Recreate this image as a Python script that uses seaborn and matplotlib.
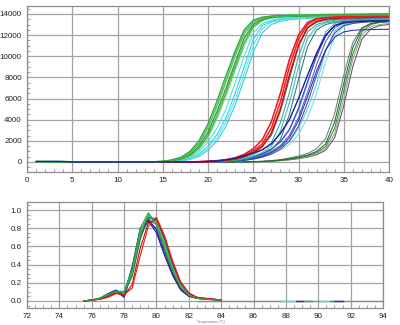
import numpy as np
import pandas as pd
import matplotlib
matplotlib.use("Agg")
import matplotlib.pyplot as plt
from matplotlib.ticker import MultipleLocator
import seaborn as sns

# ---------------- amplification data (RFU per cycle 1..40) ----------------
cycles = list(range(1, 41))

G1 = [0]*13 + [20, 70, 200, 450, 1000, 2000, 3600, 5800, 8200, 10500, 12500, 13400, 13700, 13800, 13850, 13870, 13890, 13900, 13910, 13920, 13930, 13940, 13950, 13960, 13970, 13980, 13990]
G2 = [0]*13 + [15, 50, 150, 380, 850, 1700, 3200, 5300, 7600, 10000, 12100, 13200, 13600, 13750, 13800, 13830, 13850, 13870, 13880, 13890, 13900, 13910, 13920, 13930, 13940, 13950, 13960]
G3 = [0]*13 + [10, 40, 120, 300, 700, 1500, 2800, 4800, 7000, 9400, 11700, 13000, 13500, 13700, 13750, 13780, 13800, 13820, 13840, 13850, 13860, 13870, 13880, 13890, 13900, 13910, 13920]
G4 = [0]*13 + [10, 30, 100, 250, 600, 1300, 2500, 4400, 6600, 9000, 11300, 12800, 13400, 13650, 13720, 13760, 13790, 13810, 13830, 13850, 13860, 13870, 13880, 13890, 13900, 13910, 13920]
G5 = [0]*13 + [5, 30, 90, 220, 520, 1150, 2300, 4100, 6300, 8700, 11000, 12700, 13400, 13600, 13700, 13750, 13780, 13800, 13820, 13840, 13860, 13880, 13900, 13920, 13940, 13960, 13980]
G6 = [0]*13 + [15, 55, 160, 400, 900, 1800, 3300, 5400, 7800, 10200, 12300, 13300, 13650, 13780, 13840, 13880, 13900, 13920, 13940, 13960, 13970, 13980, 13990, 14000, 14010, 14020, 14030]

C1 = [0]*14 + [30, 80, 200, 450, 950, 1900, 3200, 5000, 7500, 10000, 12200, 13100, 13400, 13550, 13620, 13660, 13690, 13710, 13730, 13750, 13760, 13770, 13780, 13790, 13800, 13810]
C2 = [0]*14 + [20, 60, 150, 350, 750, 1500, 2600, 4200, 6500, 9000, 11600, 12900, 13300, 13500, 13600, 13650, 13680, 13700, 13720, 13740, 13750, 13760, 13770, 13780, 13790, 13800]
C3 = [0]*14 + [15, 50, 120, 280, 620, 1300, 2300, 3800, 5900, 8400, 11000, 12600, 13200, 13400, 13500, 13560, 13600, 13630, 13650, 13670, 13690, 13700, 13710, 13720, 13730, 13740]
C4 = [0]*14 + [10, 40, 100, 230, 520, 1100, 2000, 3400, 5400, 7800, 10400, 12200, 13000, 13300, 13450, 13520, 13570, 13600, 13620, 13640, 13660, 13670, 13680, 13690, 13700, 13710]

R1 = [0]*18 + [30, 60, 120, 220, 400, 720, 1250, 2100, 3800, 6500, 9700, 12000, 13200, 13550, 13650, 13700, 13720, 13740, 13760, 13770, 13780, 13790]
R2 = [0]*18 + [20, 50, 100, 180, 320, 600, 1050, 1700, 3200, 5700, 9000, 11600, 13000, 13500, 13650, 13700, 13720, 13740, 13750, 13760, 13770, 13780]
R3 = [0]*18 + [15, 40, 80, 150, 270, 500, 880, 1450, 2700, 5000, 8200, 11000, 12700, 13300, 13500, 13580, 13620, 13650, 13670, 13690, 13700, 13710]

T1 = [0]*19 + [40, 80, 160, 290, 520, 900, 1500, 2500, 4800, 7900, 11000, 12700, 13200, 13400, 13480, 13520, 13550, 13570, 13590, 13600, 13610]
T2 = [0]*19 + [30, 60, 120, 220, 400, 700, 1150, 1800, 3700, 6600, 10000, 12300, 13000, 13250, 13400, 13450, 13480, 13500, 13520, 13530, 13540]
T3 = [0]*19 + [20, 45, 90, 170, 310, 550, 900, 1450, 2900, 5600, 9000, 11700, 12800, 13150, 13300, 13380, 13420, 13450, 13470, 13490, 13500]
T4 = [0]*19 + [15, 35, 70, 130, 240, 430, 720, 1150, 2100, 4500, 7800, 10900, 12500, 13000, 13200, 13300, 13350, 13380, 13400, 13420, 13430]

B1 = [60, 60, 60, 50] + [0]*15 + [50, 100, 200, 350, 580, 850, 1150, 1700, 2700, 4000, 6000, 8200, 10300, 12000, 12900, 13150, 13250, 13300, 13320, 13340, 13350]
B2 = [0]*19 + [30, 55, 80, 150, 270, 470, 780, 1200, 1900, 3100, 5100, 7600, 10000, 11900, 12900, 13250, 13350, 13400, 13420, 13440, 13450]
B3 = [0]*19 + [20, 40, 60, 120, 210, 370, 620, 1000, 1550, 2500, 4200, 6600, 9200, 11400, 12700, 13150, 13300, 13350, 13380, 13400, 13410]
B4 = [0]*19 + [15, 30, 50, 100, 180, 320, 540, 880, 1400, 2300, 3900, 6200, 8600, 10600, 11800, 12300, 12450, 12500, 12520, 12540, 12550]
B5 = [0]*19 + [10, 20, 40, 80, 150, 270, 460, 750, 1200, 2000, 3400, 5600, 8200, 10600, 12200, 12900, 13100, 13200, 13250, 13280, 13300]

L1 = [0]*19 + [20, 35, 50, 100, 180, 320, 550, 900, 1400, 1900, 3200, 5000, 7400, 10500, 12400, 13000, 13200, 13300, 13350, 13380, 13400]
L2 = [0]*19 + [30, 50, 80, 150, 280, 480, 800, 1250, 1900, 3000, 4900, 7400, 10200, 12300, 13100, 13300, 13380, 13420, 13450, 13470, 13480]
L3 = [0]*19 + [10, 25, 45, 80, 150, 260, 440, 720, 1150, 1650, 2600, 4200, 6500, 9500, 11900, 12800, 13100, 13250, 13300, 13330, 13350]

D1 = [0]*24 + [30, 50, 100, 180, 300, 450, 650, 1000, 1700, 3800, 7400, 10800, 12600, 13100, 13250, 13300]
D2 = [0]*24 + [20, 40, 90, 160, 260, 400, 580, 880, 1450, 3200, 6700, 10200, 12300, 13000, 13200, 13300]
D3 = [0]*24 + [40, 70, 130, 230, 370, 560, 800, 1250, 2200, 4600, 8200, 11300, 12700, 13100, 13200, 13250]
D4 = [0]*24 + [20, 45, 80, 140, 230, 350, 500, 760, 1250, 2700, 6000, 9700, 12000, 12800, 13000, 13100]
D5 = [0]*24 + [15, 35, 70, 120, 200, 310, 450, 680, 1100, 2300, 5300, 9000, 11600, 12600, 12900, 13000]

amp_names = ["D5", "D4", "D3", "D2", "D1", "L3", "L2", "L1", "B5", "B4", "B3", "B2",
             "T4", "T3", "T2", "T1", "C4", "C3", "C2", "C1", "R3", "R2", "R1",
             "G6", "G5", "G4", "G3", "G2", "G1", "B1"]
amp_values = [D5, D4, D3, D2, D1, L3, L2, L1, B5, B4, B3, B2,
              T4, T3, T2, T1, C4, C3, C2, C1, R3, R2, R1,
              G6, G5, G4, G3, G2, G1, B1]
amp_colors = ["#5a5a5a", "#a0a0a0", "#7a7a7a", "#2f8a3a", "#1f6e2a",
              "#78dce0", "#40bfc4", "#55cfd6",
              "#4646a8", "#2b2bb0", "#5555c4", "#3a3ab8",
              "#237a80", "#4db3b0", "#3aa3a3", "#2b8f8f",
              "#33c8d8", "#5ae6ee", "#22d3e0", "#3fe0ea",
              "#c81010", "#ff2020", "#e51c23",
              "#66cc77", "#7dd87d", "#48b848", "#2e9a3a", "#5cc45c", "#33a845",
              "#1c1c9c"]

# ---------------- melt data (-dF/dT normalised) ----------------
melt_temps = [75.5, 76.0, 76.5, 77.0, 77.5, 78.0, 78.5, 79.0, 79.5, 80.0, 80.5, 81.0, 81.5, 82.0, 82.5, 83.0, 83.5, 84.0]
mG1 = [0, 0.01, 0.03, 0.07, 0.10, 0.10, 0.35, 0.80, 0.97, 0.84, 0.58, 0.33, 0.15, 0.06, 0.03, 0.02, 0.015, 0.01]
mG2 = [0, 0.01, 0.03, 0.06, 0.11, 0.09, 0.30, 0.75, 0.95, 0.86, 0.62, 0.36, 0.17, 0.07, 0.035, 0.025, 0.02, 0.01]
mG3 = [0, 0.01, 0.02, 0.05, 0.09, 0.10, 0.27, 0.68, 0.92, 0.90, 0.68, 0.40, 0.19, 0.08, 0.04, 0.025, 0.02, 0.01]
mG4 = [0, 0.01, 0.03, 0.07, 0.10, 0.10, 0.33, 0.77, 0.95, 0.86, 0.60, 0.34, 0.16, 0.065, 0.03, 0.02, 0.015, 0.01]
mR1 = [0, 0.01, 0.02, 0.04, 0.08, 0.07, 0.14, 0.50, 0.82, 0.92, 0.72, 0.44, 0.21, 0.09, 0.04, 0.03, 0.02, 0.01]
mR2 = [0, 0.01, 0.02, 0.05, 0.09, 0.06, 0.18, 0.58, 0.86, 0.90, 0.70, 0.42, 0.20, 0.085, 0.04, 0.03, 0.02, 0.01]
mB1 = [0, 0.01, 0.03, 0.08, 0.12, 0.06, 0.38, 0.80, 0.88, 0.75, 0.50, 0.28, 0.12, 0.05, 0.03, 0.02, 0.015, 0.01]
mB2 = [0, 0.01, 0.03, 0.07, 0.11, 0.04, 0.34, 0.78, 0.90, 0.78, 0.53, 0.30, 0.13, 0.055, 0.03, 0.02, 0.015, 0.01]
mB3 = [0, 0.01, 0.02, 0.06, 0.10, 0.05, 0.30, 0.74, 0.87, 0.80, 0.56, 0.32, 0.14, 0.06, 0.03, 0.02, 0.015, 0.01]
mT1 = [0, 0.01, 0.03, 0.07, 0.11, 0.09, 0.32, 0.74, 0.92, 0.87, 0.63, 0.37, 0.17, 0.07, 0.035, 0.025, 0.02, 0.01]
mC1 = [0, 0.01, 0.03, 0.08, 0.12, 0.10, 0.36, 0.78, 0.93, 0.85, 0.60, 0.35, 0.16, 0.07, 0.035, 0.025, 0.02, 0.01]
mC2 = [0, 0.01, 0.03, 0.06, 0.10, 0.08, 0.28, 0.70, 0.90, 0.88, 0.66, 0.39, 0.18, 0.075, 0.035, 0.025, 0.02, 0.01]
mK1 = [0, 0.01, 0.02, 0.06, 0.10, 0.09, 0.29, 0.72, 0.89, 0.84, 0.61, 0.36, 0.16, 0.07, 0.035, 0.025, 0.02, 0.01]

melt_names = ["mK1", "mT1", "mC2", "mC1", "mB3", "mB2", "mB1", "mG4", "mG3", "mG2", "mR2", "mR1", "mG1"]
melt_values = [mK1, mT1, mC2, mC1, mB3, mB2, mB1, mG4, mG3, mG2, mR2, mR1, mG1]
melt_colors = ["#8a8a8a", "#2b8f8f", "#22d3e0", "#3fe0ea", "#5555c4", "#2b2bb0", "#1c1c9c",
               "#7dd87d", "#1f6e2a", "#48b848", "#c81010", "#e51c23", "#2e9a3a"]

# flat no-template traces near zero
flat_temps = [[82.5, 94.0], [87.7, 88.6], [88.6, 89.1], [89.1, 89.6], [90.1, 90.7], [90.7, 91.0], [91.0, 91.5]]
flat_values = [[0.004, 0.004], [0.004, 0.004], [0.004, 0.004], [0.004, 0.004], [0.004, 0.004], [0.004, 0.004], [0.004, 0.004]]
flat_colors = ["#8c8c8c", "#3fe0ea", "#2b2bb0", "#33a845", "#3fe0ea", "#33a845", "#2b2bb0"]

# ---------------- build frames ----------------
amp_rows = []
for name, vals in zip(amp_names, amp_values):
    for c, v in zip(cycles, vals):
        amp_rows.append((name, c, v))
amp_df = pd.DataFrame(amp_rows, columns=["well", "cycle", "rfu"])

melt_rows = []
for name, vals in zip(melt_names, melt_values):
    for t, v in zip(melt_temps, vals):
        melt_rows.append((name, t, v))
melt_df = pd.DataFrame(melt_rows, columns=["well", "temp", "deriv"])

flat_rows = []
for i, (ts, vs) in enumerate(zip(flat_temps, flat_values)):
    for t, v in zip(ts, vs):
        flat_rows.append((f"f{i}", t, v))
flat_df = pd.DataFrame(flat_rows, columns=["well", "temp", "deriv"])

# ---------------- plotting ----------------
sns.set_style("white")
plt.rcParams["font.family"] = ["Liberation Sans", "DejaVu Sans"]

fig = plt.figure(figsize=(4.0, 3.25), dpi=100)
ax1 = fig.add_axes([27/400, 1 - 172/325, 362/400, 166/325])
ax2 = fig.add_axes([27/400, 1 - 308/325, 356/400, 106/325])

grid_col = "#a3a3a3"
spine_col = "#8c8c8c"

sns.lineplot(data=amp_df, x="cycle", y="rfu", hue="well", hue_order=amp_names,
             palette=dict(zip(amp_names, amp_colors)), estimator=None, sort=False,
             legend=False, linewidth=0.75, ax=ax1)
for ln, name in zip(ax1.get_lines(), amp_names):
    if name.startswith("R"):
        ln.set_linewidth(1.15)
    if name.startswith("G"):
        ln.set_linewidth(0.95)
    if name == "B1":
        ln.set_linewidth(1.0)

sns.lineplot(data=flat_df, x="temp", y="deriv", hue="well",
             palette=dict((f"f{i}", c) for i, c in enumerate(flat_colors)),
             estimator=None, sort=False, legend=False, linewidth=1.0, ax=ax2)
sns.lineplot(data=melt_df, x="temp", y="deriv", hue="well", hue_order=melt_names,
             palette=dict(zip(melt_names, melt_colors)), estimator=None, sort=False,
             legend=False, linewidth=0.8, ax=ax2)

ax1.set_xlim(0, 40)
ax1.set_ylim(-950, 14750)
ax1.xaxis.set_major_locator(MultipleLocator(5))
ax1.xaxis.set_minor_locator(MultipleLocator(1))
ax1.yaxis.set_major_locator(MultipleLocator(2000))
ax1.yaxis.set_minor_locator(MultipleLocator(500))

ax2.set_xlim(72, 94)
ax2.set_ylim(-0.077, 1.088)
ax2.xaxis.set_major_locator(MultipleLocator(2))
ax2.xaxis.set_minor_locator(MultipleLocator(0.5))
ax2.yaxis.set_major_locator(MultipleLocator(0.2))
ax2.yaxis.set_minor_locator(MultipleLocator(0.05))
ax2.yaxis.set_major_formatter(matplotlib.ticker.FormatStrFormatter("%.1f"))

for ax in (ax1, ax2):
    ax.set_xlabel("")
    ax.set_ylabel("")
    ax.grid(True, which="major", color=grid_col, linewidth=0.9)
    ax.set_axisbelow(True)
    for s in ax.spines.values():
        s.set_color(spine_col)
        s.set_linewidth(0.9)
    ax.tick_params(which="major", direction="out", length=2.5, width=0.7,
                   color=spine_col, labelsize=5.8, labelcolor="#222222", pad=1.2)
    ax.tick_params(which="minor", direction="in", length=2.2, width=0.6,
                   color=spine_col, bottom=True, left=True)

fig.text(0.492, 0.006, "Temperature (°C)", fontsize=2.6, color="#777777")

fig.savefig("out.png", dpi=100, facecolor="white")
